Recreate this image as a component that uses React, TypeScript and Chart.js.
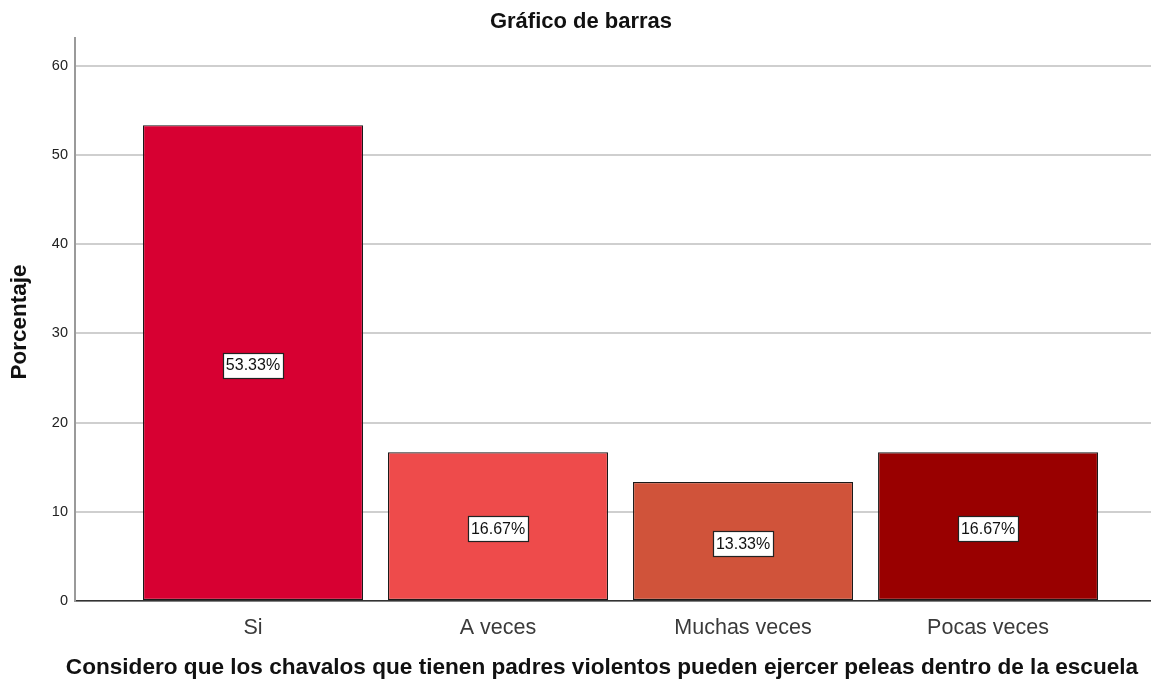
import React, { useEffect, useRef } from "react";
import { Chart, registerables } from "chart.js";

Chart.register(...registerables);

const categories = ["Si", "A veces", "Muchas veces", "Pocas veces"];
const percentages = [53.33, 16.67, 13.33, 16.67];
const barColors = ["#D70032", "#EE4B4B", "#D0533A", "#990000"];
const yTicks = [0, 10, 20, 30, 40, 50, 60];
const chartTitle = "Gráfico de barras";
const yTitle = "Porcentaje";
const xTitle =
  "Considero que los chavalos que tienen padres violentos pueden ejercer peleas dentro de la escuela";

const FONT = "Arial, 'Liberation Sans', sans-serif";

const textPlugin = {
  id: "spssText",
  afterDatasetsDraw(chart: any) {
    const ctx = chart.ctx;
    const meta = chart.getDatasetMeta(0);
    const yScale = chart.scales.y;
    ctx.save();
    ctx.font = `16px ${FONT}`;
    ctx.textAlign = "center";
    ctx.textBaseline = "middle";
    meta.data.forEach((bar: any, i: number) => {
      const v = percentages[i];
      const label = v.toFixed(2) + "%";
      const cx = bar.x;
      const cy = yScale.getPixelForValue(v / 2) + 2;
      const w = Math.round(ctx.measureText(label).width + 6);
      const h = 25;
      const x0 = Math.round(cx - w / 2) + 0.5;
      const y0 = Math.round(cy - h / 2) + 0.5;
      ctx.fillStyle = "#ffffff";
      ctx.fillRect(x0, y0, w, h);
      ctx.strokeStyle = "#222222";
      ctx.lineWidth = 1.2;
      ctx.strokeRect(x0, y0, w, h);
      ctx.fillStyle = "#111111";
      ctx.fillText(label, cx, cy + 1);
    });
    ctx.restore();
  },
  afterDraw(chart: any) {
    const ctx = chart.ctx;
    ctx.save();
    ctx.fillStyle = "#111111";
    ctx.textAlign = "center";
    ctx.textBaseline = "middle";
    ctx.font = `bold 22px ${FONT}`;
    ctx.fillText(chartTitle, 581, 22);
    ctx.font = `bold 22.6px ${FONT}`;
    ctx.fillText(xTitle, 602, 668);
    ctx.translate(20, 322);
    ctx.rotate(-Math.PI / 2);
    ctx.font = `bold 22.5px ${FONT}`;
    ctx.fillText(yTitle, 0, 0);
    ctx.restore();
  },
};

export default function App() {
  const ref = useRef<HTMLCanvasElement | null>(null);

  useEffect(() => {
    if (!ref.current) return;
    const chart = new Chart(ref.current, {
      type: "bar",
      data: {
        datasets: [
          {
            data: percentages.map((v, i) => ({ x: i, y: v })),
            backgroundColor: barColors,
            borderColor: "#1a1a1a",
            borderWidth: 1.2,
            borderSkipped: false,
            barPercentage: 0.898,
            categoryPercentage: 1,
          },
        ],
      },
      options: {
        animation: false,
        responsive: false,
        maintainAspectRatio: false,
        layout: { padding: { top: 38, left: 0, right: 0, bottom: 0 } },
        plugins: {
          legend: { display: false },
          tooltip: { enabled: false },
          title: { display: false },
        },
        scales: {
          x: {
            type: "linear",
            offset: false,
            min: -0.7265,
            max: 3.665,
            afterBuildTicks(scale: any) {
              scale.ticks = categories.map((_, i) => ({ value: i }));
            },
            afterFit(scale: any) {
              scale.height = 82;
            },
            grid: { display: false, drawTicks: false, offset: false },
            border: { display: true, color: "#333333", width: 1.5 },
            ticks: {
              padding: 14,
              color: "#3a3a3a",
              font: { family: FONT, size: 21.5 },
              callback: (v: any) => categories[v] ?? "",
            },
          },
          y: {
            min: 0,
            max: 63.1,
            afterBuildTicks(scale: any) {
              scale.ticks = yTicks.map((v) => ({ value: v }));
            },
            afterFit(scale: any) {
              scale.width = 75;
            },
            grid: { color: "#cfcfcf", lineWidth: 2, drawTicks: false },
            border: { display: true, color: "#9a9a9a", width: 2 },
            ticks: {
              padding: 7,
              color: "#222222",
              font: { family: FONT, size: 14.5 },
            },
          },
        },
      },
      plugins: [textPlugin],
    } as any);
    return () => chart.destroy();
  }, []);

  return (
    <div style={{ position: "fixed", left: 0, top: 0, width: 1151, height: 683, background: "#fff" }}>
      <canvas ref={ref} width={1151} height={683} style={{ width: 1151, height: 683 }} />
    </div>
  );
}
